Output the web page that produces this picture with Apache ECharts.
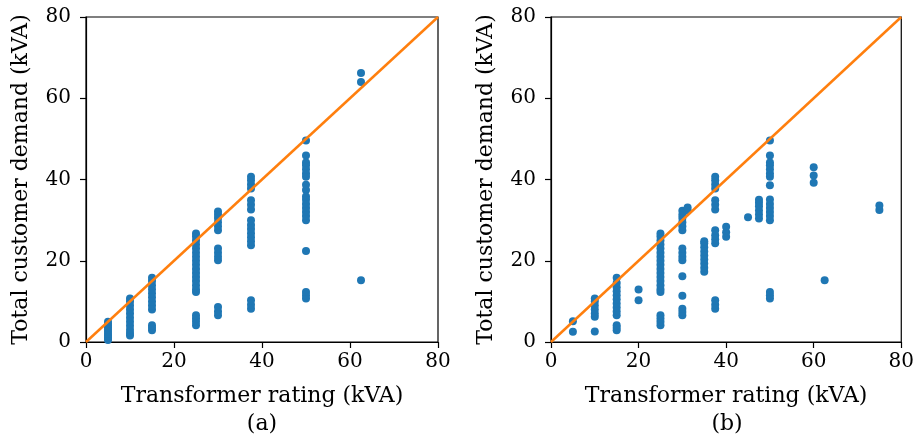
<!DOCTYPE html>
<html>
<head>
<meta charset="utf-8">
<script src="https://cdn.jsdelivr.net/npm/echarts@6/dist/echarts.min.js"></script>
<style>
  html, body { margin: 0; padding: 0; background: #fff; }
  #chart { width: 917px; height: 435px; }
</style>
</head>
<body>
<div id="chart"></div>
<script>
  // (a) transformer rating vs total customer demand, [rating, demand]
  const pointsA = [
    [5, 0.5], [5, 1], [5, 1.5], [5, 2], [5, 2.5], [5, 3], [5, 3.5], [5, 4], [5, 4.5], [5, 5],
    [10, 1.6], [10, 2.2], [10, 3], [10, 4], [10, 5], [10, 6], [10, 7], [10, 8], [10, 9], [10, 10], [10, 10.7],
    [15, 8], [15, 9], [15, 10], [15, 11], [15, 12], [15, 13], [15, 14], [15, 15], [15, 15.8],
    [15, 2.9], [15, 3.5], [15, 4.1],
    [25, 12.3], [25, 13], [25, 14], [25, 15], [25, 16], [25, 17], [25, 18], [25, 19], [25, 20],
    [25, 21], [25, 22], [25, 23], [25, 24], [25, 25], [25, 26], [25, 26.7],
    [25, 4.1], [25, 5], [25, 5.8], [25, 6.6],
    [30, 27.5], [30, 28.5], [30, 29.5], [30, 30.5], [30, 31.3], [30, 32.1],
    [30, 20.1], [30, 21], [30, 22], [30, 23], [30, 6.6], [30, 7.5], [30, 8.6],
    [37.5, 37.8], [37.5, 38.8], [37.5, 39.8], [37.5, 40.7], [37.5, 32.6], [37.5, 33.8], [37.5, 34.9],
    [37.5, 23.8], [37.5, 24.8], [37.5, 25.8], [37.5, 26.8], [37.5, 27.8], [37.5, 28.8], [37.5, 30],
    [37.5, 8.2], [37.5, 9.2], [37.5, 10.3],
    [50, 49.6], [50, 45.9], [50, 40.7], [50, 41.5], [50, 42.5], [50, 43.5], [50, 44.2],
    [50, 37.4], [50, 38.7], [50, 30], [50, 31], [50, 32], [50, 33], [50, 34], [50, 35], [50, 35.8],
    [50, 22.4], [50, 10.7], [50, 11.5], [50, 12.3],
    [62.5, 64], [62.5, 66.2], [62.5, 15.2]
  ]

  // (b) same, with the re-assigned ratings
  const pointsB = [
    [5, 2.5], [5, 5.1],
    [10, 2.6], [10, 6.2], [10, 7], [10, 8], [10, 9], [10, 10], [10, 10.7],
    [15, 6.6], [15, 7.5], [15, 8.5], [15, 9.5], [15, 10.5], [15, 11.5], [15, 12.5], [15, 13.5],
    [15, 14.5], [15, 15.8], [15, 2.9], [15, 3.5], [15, 4.1],
    [20, 10.3], [20, 12.9],
    [25, 12.3], [25, 13], [25, 14], [25, 15], [25, 16], [25, 17], [25, 18], [25, 19], [25, 20],
    [25, 21], [25, 22], [25, 23], [25, 24], [25, 25], [25, 26], [25, 26.7],
    [25, 4.1], [25, 5], [25, 5.8], [25, 6.6],
    [30, 27.5], [30, 28.5], [30, 29.5], [30, 30.5], [30, 31.3], [30, 32.3],
    [30, 20.1], [30, 21], [30, 22], [30, 23], [30, 16.2], [30, 11.4], [30, 6.6], [30, 7.4], [30, 8.2],
    [31.2, 32.3], [31.2, 33.1],
    [35, 17.3], [35, 18.3], [35, 19.3], [35, 20.3], [35, 21.3], [35, 22.3], [35, 23.3], [35, 24.3], [35, 24.8],
    [37.5, 37.8], [37.5, 38.8], [37.5, 39.8], [37.5, 40.7], [37.5, 32.6], [37.5, 33.8], [37.5, 34.9],
    [37.5, 24.3], [37.5, 25.3], [37.5, 26.3], [37.5, 27.5], [37.5, 8.2], [37.5, 9.2], [37.5, 10.3],
    [40, 25.9], [40, 27], [40, 28.4],
    [45, 30.7],
    [47.5, 30.4], [47.5, 31.4], [47.5, 32.4], [47.5, 33.4], [47.5, 34.3], [47.5, 35],
    [50, 49.6], [50, 45.9], [50, 40.7], [50, 41.5], [50, 42.5], [50, 43.5], [50, 44.2],
    [50, 38.6], [50, 30], [50, 31], [50, 32], [50, 33], [50, 34], [50, 35.1],
    [50, 10.7], [50, 11.5], [50, 12.3],
    [60, 39.2], [60, 41], [60, 43],
    [62.5, 15.2],
    [75, 32.5], [75, 33.6]
  ]

  const diagonal = [[0, 0], [80, 80]]
  const axisTicks = [0, 20, 40, 60, 80]
  const panelLabels = ['(a)', '(b)']

  const font = 'DejaVu Serif'
  const blue = '#1f77b4'
  const orange = '#ff7f0e'

  const chart = echarts.init(document.getElementById('chart'))

  const grids = [
    { left: 86, width: 352, top: 17, height: 325 },
    { left: 551, width: 352, top: 17, height: 325 }
  ]

  function xAxisFor(i) {
    return {
      gridIndex: i,
      type: 'value',
      min: axisTicks[0],
      max: axisTicks[axisTicks.length - 1],
      interval: 20,
      name: 'Transformer rating (kVA)',
      nameLocation: 'middle',
      nameGap: 43,
      nameTextStyle: { fontFamily: font, fontSize: 22, color: '#000' },
      axisLine: { show: true, onZero: false, lineStyle: { color: '#000', width: 1.2 } },
      axisTick: { show: true, length: 6, lineStyle: { color: '#000', width: 1.2 } },
      axisLabel: { fontFamily: font, fontSize: 20, color: '#000', margin: 10 },
      splitLine: { show: false }
    }
  }

  function yAxisFor(i) {
    return {
      gridIndex: i,
      type: 'value',
      min: axisTicks[0],
      max: axisTicks[axisTicks.length - 1],
      interval: 20,
      name: 'Total customer demand (kVA)',
      nameLocation: 'middle',
      nameGap: 54,
      nameTextStyle: { fontFamily: font, fontSize: 22, color: '#000' },
      axisLine: { show: true, onZero: false, lineStyle: { color: '#000', width: 1.2 } },
      axisTick: { show: true, length: 6, lineStyle: { color: '#000', width: 1.2 } },
      axisLabel: { fontFamily: font, fontSize: 20, color: '#000', margin: 15 },
      splitLine: { show: false }
    }
  }

  const option = {
    animation: false,
    backgroundColor: '#fff',
    grid: grids.map(g => Object.assign({ show: true, borderColor: '#000', borderWidth: 1.2, backgroundColor: '#fff' }, g)),
    xAxis: [xAxisFor(0), xAxisFor(1)],
    yAxis: [yAxisFor(0), yAxisFor(1)],
    graphic: panelLabels.map((t, i) => ({
      type: 'text',
      x: grids[i].left + grids[i].width / 2,
      y: 424,
      style: { text: t, fontFamily: font, fontSize: 22, fill: '#000', align: 'center', verticalAlign: 'middle' }
    })),
    series: [
      {
        type: 'scatter', xAxisIndex: 0, yAxisIndex: 0, data: pointsA,
        symbolSize: 8, itemStyle: { color: blue, opacity: 1 }, z: 2
      },
      {
        type: 'line', xAxisIndex: 0, yAxisIndex: 0, data: diagonal,
        symbol: 'none', lineStyle: { color: orange, width: 2.5 }, z: 3
      },
      {
        type: 'scatter', xAxisIndex: 1, yAxisIndex: 1, data: pointsB,
        symbolSize: 8, itemStyle: { color: blue, opacity: 1 }, z: 2
      },
      {
        type: 'line', xAxisIndex: 1, yAxisIndex: 1, data: diagonal,
        symbol: 'none', lineStyle: { color: orange, width: 2.5 }, z: 3
      }
    ]
  }

  chart.setOption(option)
</script>
</body>
</html>
